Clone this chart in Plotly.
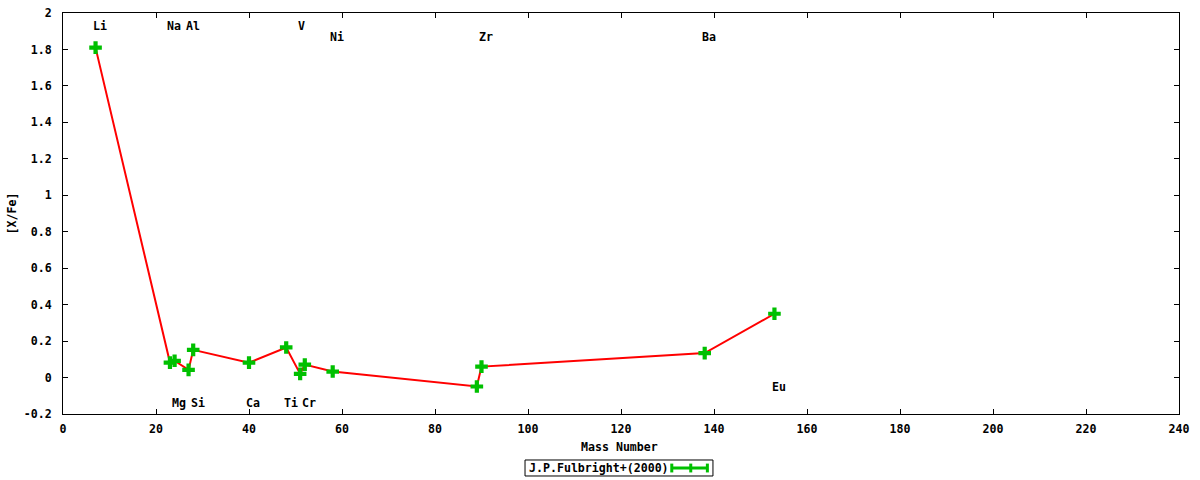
import plotly.graph_objects as go

# Fulbright (2000) abundances vs mass number
mass = [7, 23, 24, 27, 28, 40, 48, 51, 52, 58, 89, 90, 138, 153]
xfe = [1.81, 0.082, 0.092, 0.042, 0.152, 0.082, 0.165, 0.02, 0.071, 0.033, -0.049, 0.06, 0.134, 0.35]

# element labels (left edge of text, height)
lab_text = ['Li', 'Na', 'Al', 'V', 'Ni', 'Zr', 'Ba', 'Mg', 'Si', 'Ca', 'Ti', 'Cr', 'Eu']
lab_x = [6.0, 22.0, 26.0, 50.0, 57.0, 89.0, 137.0, 23.0, 27.0, 39.0, 47.0, 51.0, 152.0]
lab_y = [1.93, 1.93, 1.93, 1.93, 1.866, 1.866, 1.866, -0.138, -0.138, -0.138, -0.138, -0.138, -0.054]

xticks = list(range(0, 241, 20))
yticks = [-0.2, 0, 0.2, 0.4, 0.6, 0.8, 1, 1.2, 1.4, 1.6, 1.8, 2]
yticktext = ['-0.2', '0', '0.2', '0.4', '0.6', '0.8', '1', '1.2', '1.4', '1.6', '1.8', '2']

FONT = dict(family='DejaVu Sans Mono', size=11.6, color='black', weight='bold')
GREEN = '#00c000'

fig = go.Figure()
fig.add_trace(go.Scatter(x=mass, y=xfe, mode='lines',
                         line=dict(color='#ff0000', width=2), showlegend=False))
fig.add_trace(go.Scatter(x=mass, y=xfe, mode='markers',
                         marker=dict(symbol='cross', size=10.5, color=GREEN, line=dict(width=0)),
                         showlegend=False))

for t, x, y in zip(lab_text, lab_x, lab_y):
    fig.add_annotation(x=x, y=y, text=t, showarrow=False, xanchor='left', yanchor='middle', font=FONT)

# axis titles
fig.add_annotation(xref='paper', yref='paper', x=0.499, y=-0.082, text='Mass Number',
                   showarrow=False, xanchor='center', yanchor='middle', font=FONT)
fig.add_annotation(xref='paper', yref='paper', x=-0.0457, y=0.5, text='[X/Fe]', textangle=-90,
                   showarrow=False, xanchor='center', yanchor='middle', font=FONT)

# gnuplot-style key below the plot
fig.add_shape(type='rect', xref='paper', yref='paper', x0=0.414, x1=0.5824, y0=-0.1147, y1=-0.1546,
              line=dict(color='black', width=1), fillcolor='white')
fig.add_annotation(xref='paper', yref='paper', x=0.4155, y=-0.1347, text='J.P.Fulbright+(2000)',
                   showarrow=False, xanchor='left', yanchor='middle', font=FONT)
kx0, kx1, kxm = 0.5455, 0.5774, 0.5625
fig.add_shape(type='line', xref='paper', yref='paper', x0=kx0, x1=kx1, y0=-0.1347, y1=-0.1347,
              line=dict(color=GREEN, width=3))
for kx in (kx0, kxm, kx1):
    fig.add_shape(type='line', xref='paper', yref='paper', x0=kx, x1=kx, y0=-0.1237, y1=-0.1457,
                  line=dict(color=GREEN, width=3))

fig.update_xaxes(range=[0, 240], tickvals=xticks, ticks='inside', ticklen=5, tickcolor='black',
                 showline=True, linecolor='black', linewidth=1, mirror='ticks', showgrid=False,
                 zeroline=False, tickfont=FONT, ticklabelstandoff=4, automargin=False)
fig.update_yaxes(range=[-0.2, 2], tickvals=yticks, ticktext=yticktext, ticks='inside', ticklen=5,
                 tickcolor='black', showline=True, linecolor='black', linewidth=1, mirror='ticks',
                 showgrid=False, zeroline=False, tickfont=FONT, ticklabelstandoff=8, automargin=False)
fig.update_layout(width=1200, height=480, margin=dict(l=63, r=21, t=13, b=66),
                  plot_bgcolor='white', paper_bgcolor='white', showlegend=False)

# drop the page's default body margin so the 1200x480 figure fills the window
fig.write_html('out.html', config={'displayModeBar': False},
               post_script="document.body.style.margin='0';")
